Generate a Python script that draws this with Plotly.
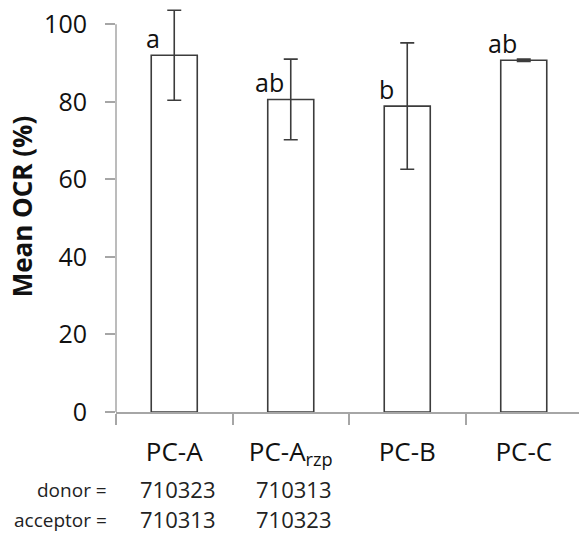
import plotly.graph_objects as go

categories = ["PC-A", "PC-A_rzp", "PC-B", "PC-C"]
tick_labels = ["PC-A", "PC-A<sub>rzp</sub>", "PC-B", "PC-C"]
mean_ocr = [92.0, 80.6, 78.9, 90.7]
err = [11.6, 10.4, 16.3, 0.3]
letters = ["a", "ab", "b", "ab"]
letter_shift = [-12, -5, -11, -5]
donor = ["710323", "710313"]
acceptor = ["710313", "710323"]

FONT = "Open Sans"
DARK = "#3c3c3c"
AXIS = "#a6a6a6"

PX_PER_UNIT = 3.88
Y_MAX = 106
W = 463.0
H = Y_MAX * PX_PER_UNIT

fig = go.Figure()
fig.add_trace(go.Bar(
    x=categories, y=mean_ocr,
    width=0.395,
    marker=dict(color="white", line=dict(color=DARK, width=1.6)),
    error_y=dict(type="data", array=err, visible=True, color=DARK,
                 thickness=1.6, width=7),
    showlegend=False,
))

for c, v, l, s in zip(categories, mean_ocr, letters, letter_shift):
    fig.add_annotation(x=c, y=v, xref="x", yref="y", text=l, showarrow=False,
                       xanchor="right", yanchor="bottom", xshift=s, yshift=-2,
                       font=dict(family=FONT, size=25, color="#111111"))

def ypaper(px):
    return (412 - px) / H

fig.add_annotation(x=-7 / W, y=ypaper(490), xref="paper", yref="paper",
                   text="donor =", showarrow=False, xanchor="right", yanchor="middle",
                   font=dict(family=FONT, size=19, color="#222222"))
fig.add_annotation(x=-7 / W, y=ypaper(520), xref="paper", yref="paper",
                   text="acceptor =", showarrow=False, xanchor="right", yanchor="middle",
                   font=dict(family=FONT, size=19, color="#222222"))
for c, d, a in zip(categories, donor, acceptor):
    fig.add_annotation(x=c, y=ypaper(489), xref="x", yref="paper", text=d,
                       showarrow=False, xanchor="center", yanchor="middle", xshift=3,
                       font=dict(family=FONT, size=22, color="#222222"))
    fig.add_annotation(x=c, y=ypaper(519), xref="x", yref="paper", text=a,
                       showarrow=False, xanchor="center", yanchor="middle", xshift=3,
                       font=dict(family=FONT, size=22, color="#222222"))

# y-axis line spanning 0..100 only (as in the reference)
fig.add_shape(type="line", xref="paper", yref="y", x0=0, x1=0, y0=0, y1=100,
              line=dict(color=AXIS, width=1.5), layer="below")

fig.update_layout(
    width=579, height=535,
    margin=dict(l=116, r=0, t=535 - 123 - H, b=123),
    paper_bgcolor="white", plot_bgcolor="white",
    font=dict(family=FONT, color="#111111"),
    xaxis=dict(
        type="category",
        range=[-0.5, -0.5 + W / 116.5],
        tickmode="array", tickvals=categories, ticktext=tick_labels,
        tickson="boundaries", ticks="outside", ticklen=11, tickcolor=AXIS,
        tickwidth=1.5,
        showline=True, linecolor=AXIS, linewidth=1.5,
        showgrid=False, zeroline=False,
        tickfont=dict(family=FONT, size=26, color="#111111"),
        ticklabelstandoff=16,
    ),
    yaxis=dict(
        range=[0, Y_MAX], tickvals=[0, 20, 40, 60, 80, 100],
        ticks="outside", ticklen=10, tickcolor=AXIS, tickwidth=1.5,
        showline=False,
        showgrid=False, zeroline=False,
        tickfont=dict(family=FONT, size=25, color="#111111"),
        ticklabelstandoff=13,
        title=dict(text="<b>Mean OCR (%)</b>", standoff=4,
                   font=dict(family=FONT, size=26, color="#111111")),
    ),
)

fig.write_html("out.html")
